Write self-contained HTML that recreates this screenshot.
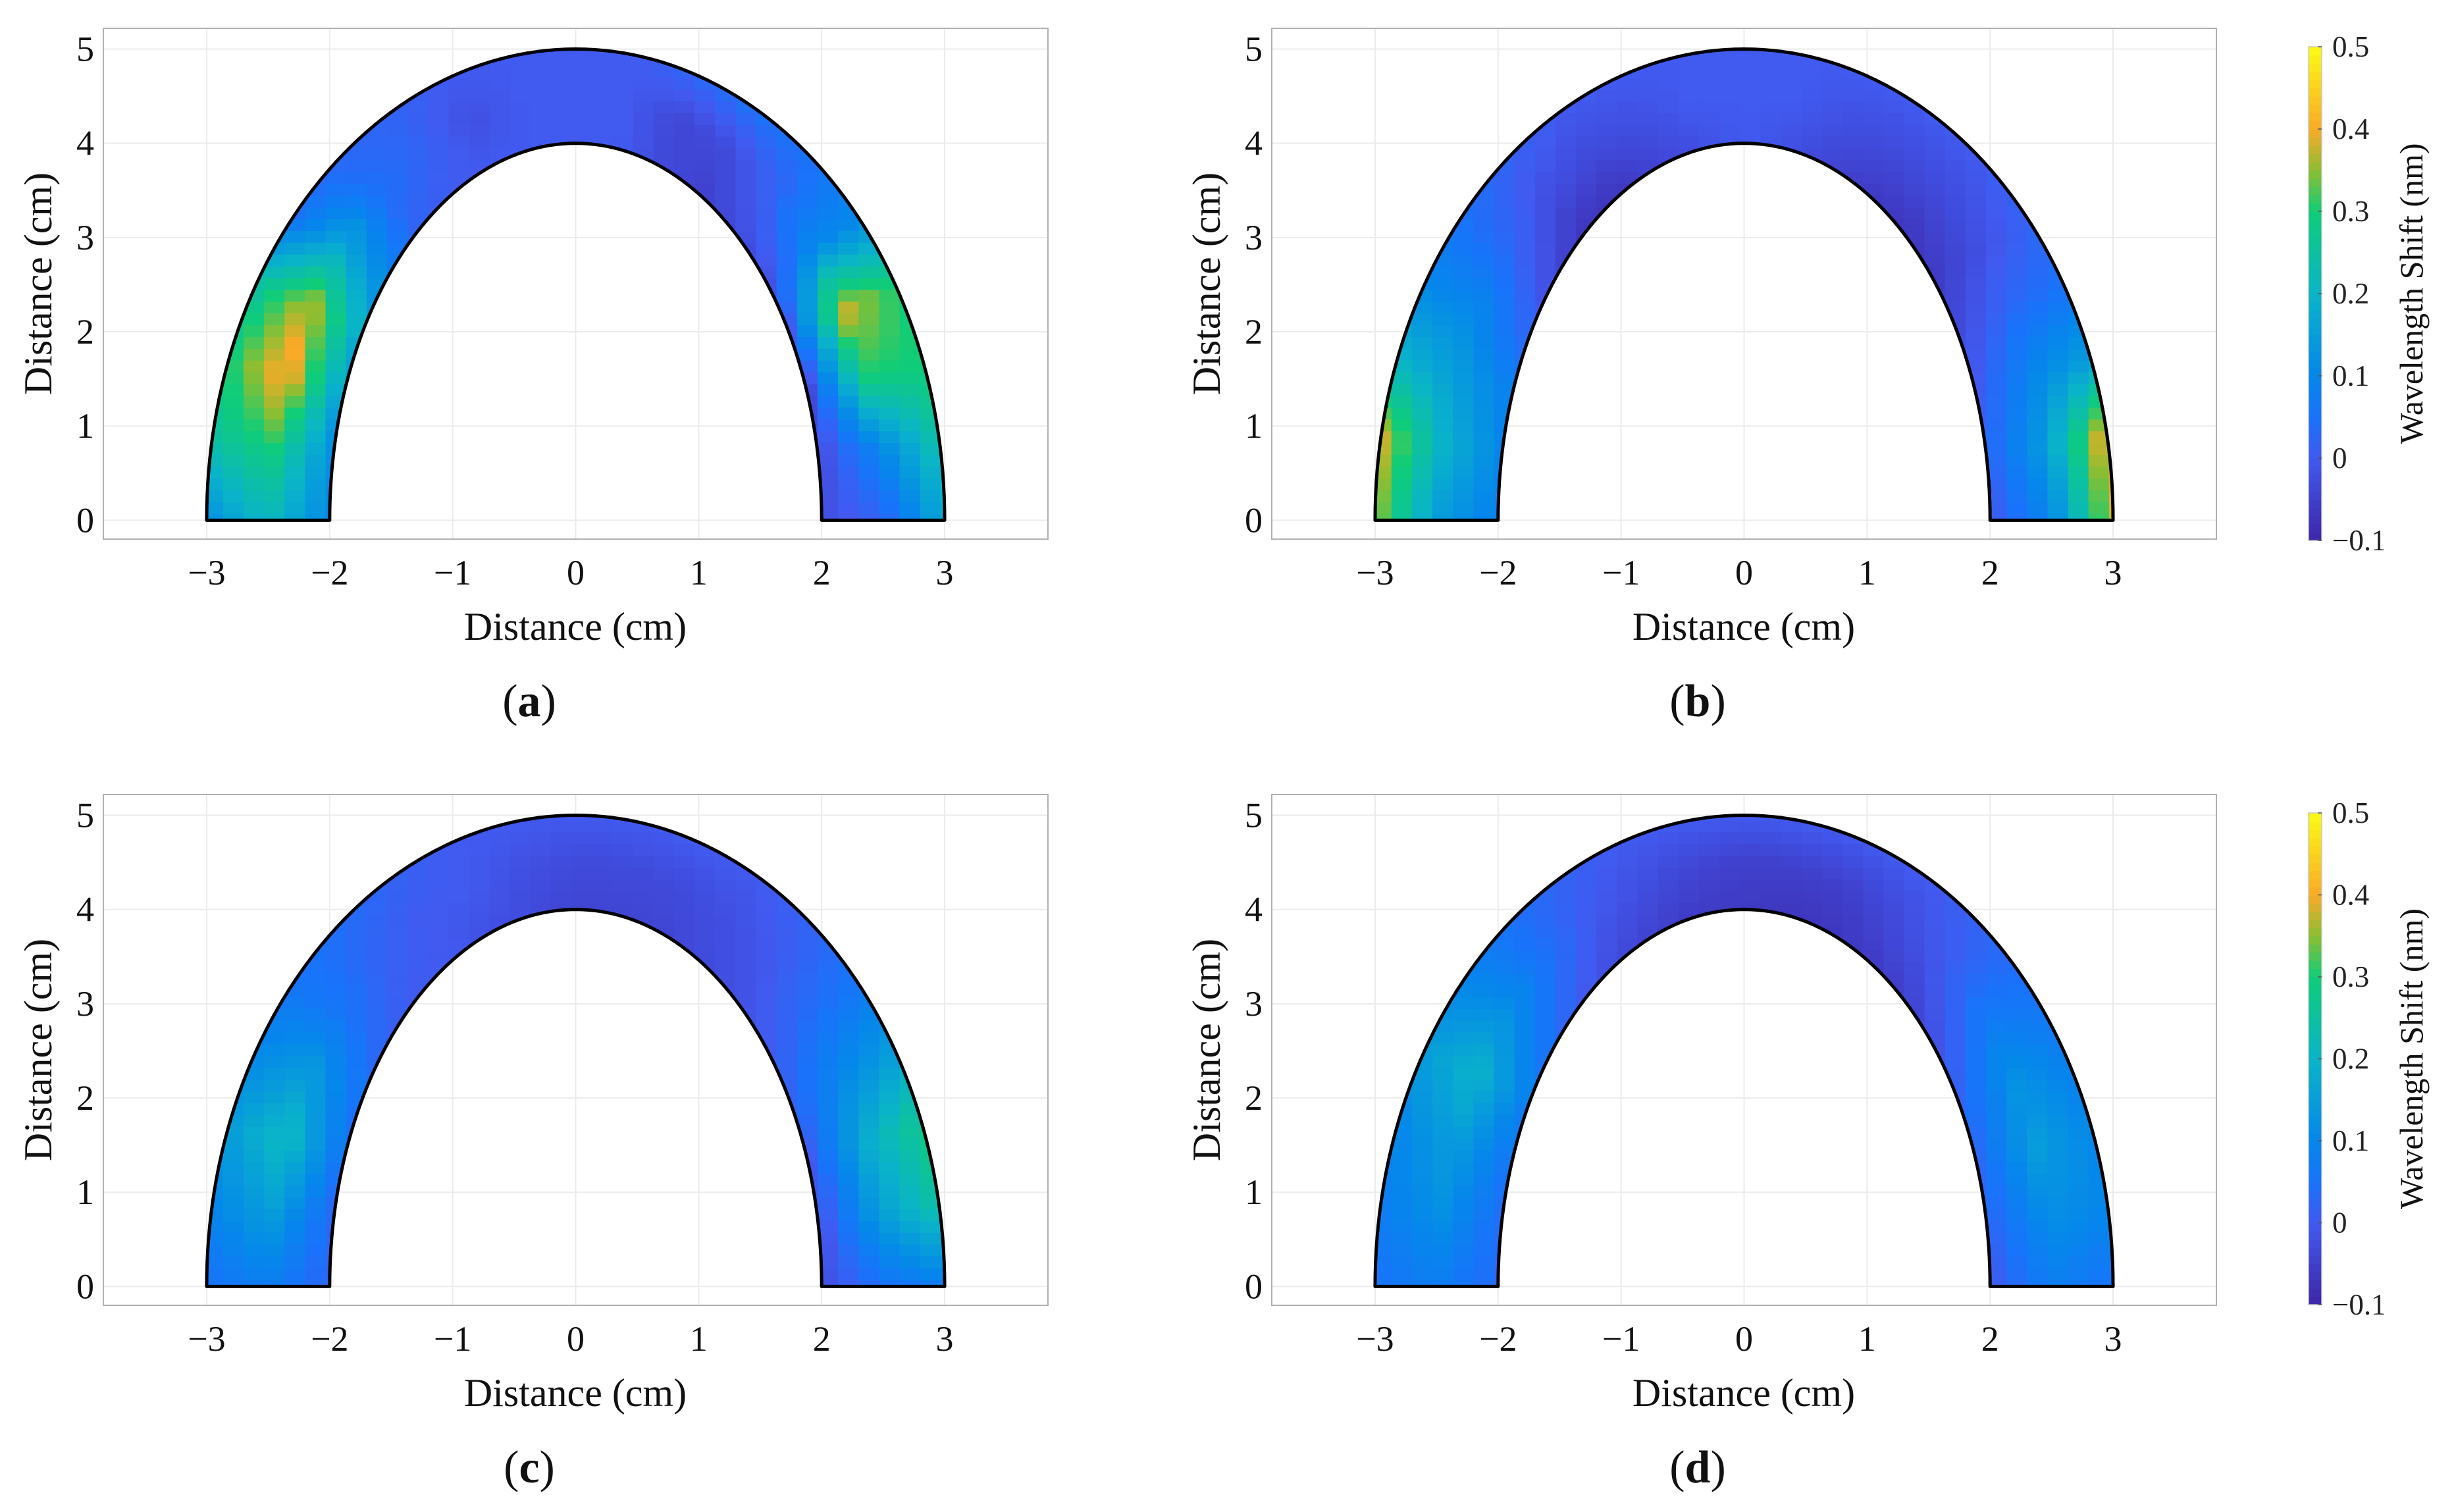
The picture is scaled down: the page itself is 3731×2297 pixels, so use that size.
<!DOCTYPE html>
<html><head><meta charset="utf-8">
<style>
html,body{margin:0;padding:0;background:#fff;}
svg{display:block;font-family:"Liberation Serif",serif;}
</style></head>
<body>
<svg id="fig" width="3731" height="2297" viewBox="0 0 3731 2297" xmlns="http://www.w3.org/2000/svg"></svg>
<script>
// ---- data: wavelength shift (nm) sampled along the arch (angle from right base, 0..180 deg) ----
const angles = [0,10,20,30,40,50,60,70,80,90,100,110,120,130,140,150,160,170,180];
const aOuter = [0.18,0.25,0.30,0.30,0.10,0.05,0.05,0.03,0.00,0.00,0.00,0.00,0.02,0.03,0.05,0.25,0.30,0.25,0.12];
const aMid   = [0.02,0.10,0.30,0.38,0.10,0.02,-0.03,-0.04,0.00,0.00,0.00,-0.02,0.02,0.05,0.18,0.38,0.42,0.30,0.22];
const aInner = [-0.02,-0.03,-0.03,0.00,-0.02,-0.03,-0.05,-0.03,0.00,0.00,0.00,0.00,0.00,0.02,0.10,0.18,0.15,0.12,0.10];
const bOuter = [0.38,0.42,0.15,0.05,0.02,0.00,0.00,0.00,0.00,0.00,0.00,0.00,0.00,0.02,0.05,0.10,0.20,0.38,0.35];
const bMid   = [0.10,0.15,0.10,0.03,-0.02,-0.03,-0.03,-0.02,0.00,0.00,0.00,-0.02,-0.03,-0.02,0.03,0.10,0.15,0.20,0.15];
const bInner = [0.00,0.02,0.00,-0.03,-0.06,-0.07,-0.06,-0.04,-0.02,0.00,-0.02,-0.04,-0.07,-0.07,-0.03,0.02,0.08,0.10,0.08];
const cOuter = [0.08,0.25,0.28,0.15,0.06,0.02,0.00,0.00,0.00,0.00,0.00,0.00,0.02,0.04,0.06,0.10,0.15,0.10,0.05];
const cMid   = [0.05,0.15,0.18,0.10,0.04,0.00,-0.02,-0.03,-0.03,-0.03,-0.02,0.00,0.00,0.02,0.06,0.15,0.22,0.15,0.08];
const cInner = [-0.02,-0.02,0.00,0.02,0.00,-0.02,-0.03,-0.04,-0.04,-0.04,-0.03,-0.02,0.00,0.00,0.02,0.05,0.05,0.03,0.02];
const dOuter = [0.05,0.10,0.10,0.08,0.05,0.02,0.00,0.00,0.00,0.00,0.00,0.00,0.02,0.05,0.10,0.15,0.10,0.08,0.05];
const dMid   = [0.08,0.12,0.15,0.12,0.06,0.00,-0.03,-0.05,-0.05,-0.05,-0.04,-0.02,0.00,0.05,0.12,0.20,0.15,0.12,0.08];
const dInner = [0.00,0.02,0.03,0.02,-0.02,-0.05,-0.06,-0.07,-0.07,-0.06,-0.06,-0.05,-0.03,0.00,0.04,0.08,0.06,0.04,0.03];
const xTicks = [-3,-2,-1,0,1,2,3];
const yTicks = [0,1,2,3,4,5];
const cbTicks = [-0.1,0,0.1,0.2,0.3,0.4,0.5];
const cbLabels = ["\u22120.1","0","0.1","0.2","0.3","0.4","0.5"];
const xTickLabels = ["\u22123","\u22122","\u22121","0","1","2","3"];

const NS="http://www.w3.org/2000/svg";
const svg=document.getElementById('fig');
function mk(tag,attrs,parent){const e=document.createElementNS(NS,tag);for(const k in attrs)e.setAttribute(k,attrs[k]);(parent||svg).appendChild(e);return e;}

const stops=[[0,[62,38,168]],[0.1667,[65,90,240]],[0.25,[25,115,250]],[0.3333,[5,135,235]],[0.5,[10,180,200]],[0.6667,[15,205,120]],[0.75,[140,190,50]],[0.8333,[250,170,40]],[1,[250,250,20]]];
function cmap(v){let t=(v+0.1)/0.6;t=Math.max(0,Math.min(1,t));
 for(let i=1;i<stops.length;i++){if(t<=stops[i][0]){const a=stops[i-1],b=stops[i];const f=(t-a[0])/(b[0]-a[0]);
  const c=a[1].map((x,j)=>Math.round(x+(b[1][j]-x)*f));return `rgb(${c[0]},${c[1]},${c[2]})`;}}
 return 'rgb(250,250,20)';}
function interp(arr,th){const p=th/10;const i=Math.max(0,Math.min(17,Math.floor(p)));const f=Math.max(0,Math.min(1,p-i));return arr[i]*(1-f)+arr[i+1]*f;}

const panels=[
 {id:'a',ox:0,oy:0,outer:aOuter,mid:aMid,inner:aInner},
 {id:'b',ox:1775,oy:0,outer:bOuter,mid:bMid,inner:bInner},
 {id:'c',ox:0,oy:1164,outer:cOuter,mid:cMid,inner:cInner},
 {id:'d',ox:1775,oy:1164,outer:dOuter,mid:dMid,inner:dInner}
];
const XMIN=-3.84,XMAX=3.84,YMIN=-0.2,YMAX=5.22;
const BL=157,BR=1592,BT=43,BB=819;

panels.forEach(p=>{
 const g=mk('g',{});
 
 
 const sx=x=>p.ox+BL+(x-XMIN)/(XMAX-XMIN)*(BR-BL);
 const sy=y=>p.oy+BB-(y-YMIN)/(YMAX-YMIN)*(BB-BT);
 const grid=mk('g',{stroke:'#ebebeb','stroke-width':2},g);
 
 
 xTicks.forEach(t=>mk('line',{x1:sx(t),x2:sx(t),y1:p.oy+BT,y2:p.oy+BB},grid));
 yTicks.forEach(t=>mk('line',{y1:sy(t),y2:sy(t),x1:p.ox+BL,x2:p.ox+BR},grid));
 let d='';const N=120;
 for(let i=0;i<=N;i++){const th=Math.PI*i/N;d+=(i?'L':'M')+sx(3*Math.cos(th)).toFixed(2)+','+sy(5*Math.sin(th)).toFixed(2);}
 for(let i=N;i>=0;i--){const th=Math.PI*i/N;d+='L'+sx(2*Math.cos(th)).toFixed(2)+','+sy(4*Math.sin(th)).toFixed(2);}
 d+='Z';
 const cp=mk('clipPath',{id:'clip-'+p.id},g);
 mk('path',{d:d},cp);
 const hm=mk('g',{'clip-path':'url(#clip-'+p.id+')'},g);
 
 
 const dx=1/6,dy=0.125;
 for(let x=-3.2;x<3.2;x+=dx){
  for(let y=-0.05;y<5.1;y+=dy){
   const cx=x+dx/2,cy=y+dy/2;
   let lo=-0.3,hi=1.3;
   for(let k=0;k<30;k++){const t=(lo+hi)/2;const q=Math.pow(cx/(2+t),2)+Math.pow(Math.max(cy,0)/(4+t),2);if(q>1)lo=t;else hi=t;}
   const t=(lo+hi)/2;
   if(t<-0.25||t>1.25)continue;
   const th=Math.atan2(Math.max(cy,0)/(4+t),cx/(2+t))*180/Math.PI;
   const tt=Math.max(0,Math.min(1,t));
   const vi=interp(p.inner,th),vm=interp(p.mid,th),vo=interp(p.outer,th);
   const v=tt<0.5?vi+(vm-vi)*(tt/0.5):vm+(vo-vm)*((tt-0.5)/0.5);
   const r=mk('rect',{x:sx(x),y:sy(y+dy),width:sx(x+dx)-sx(x)+0.8,height:sy(y)-sy(y+dy)+0.8,fill:cmap(v)},hm);
   
   
  }
 }
 const outline=mk('path',{d:d,fill:'none',stroke:'#000','stroke-width':5,'stroke-linejoin':'round'},g);
 
 
 const box=mk('rect',{x:p.ox+BL,y:p.oy+BT,width:BR-BL,height:BB-BT,fill:'none',stroke:'#b0b0b0','stroke-width':2},g);
 
 
 xTicks.forEach((t,i)=>{const e=mk('text',{x:sx(t),y:p.oy+888,'font-size':54,'text-anchor':'middle',fill:'#111'},g);e.textContent=xTickLabels[i];
  
  });
 yTicks.forEach(t=>{const e=mk('text',{x:p.ox+143,y:sy(t)+18,'font-size':54,'text-anchor':'end',fill:'#111'},g);e.textContent=String(t);
  
  });
 const xl=mk('text',{x:p.ox+874,y:p.oy+972,'font-size':60,'text-anchor':'middle',fill:'#111'},g);xl.textContent='Distance (cm)';
 
 
 const yl=mk('text',{x:0,y:0,'font-size':60,'text-anchor':'middle',fill:'#111',transform:`translate(${p.ox+78},${p.oy+431}) rotate(-90)`},g);yl.textContent='Distance (cm)';
 
 
 const cap=mk('text',{x:p.ox+804,y:p.oy+1088,'font-size':70,'text-anchor':'middle',fill:'#111'},g);
 
 
 cap.appendChild(document.createTextNode('('));
 const bt=mk('tspan',{'font-weight':'bold'},cap);bt.textContent=p.id;
 cap.appendChild(document.createTextNode(')'));
});

[[71,821],[1235,1982]].forEach((cb,ci)=>{
 const g=mk('g',{});
 
 
 const top=cb[0],bot=cb[1],L=3507,W=20;
 const M=60;
 for(let i=0;i<M;i++){const v=-0.1+0.6*(i+0.5)/M;const y0=bot-(i+1)*(bot-top)/M;
  mk('rect',{x:L,y:y0,width:W,height:(bot-top)/M+0.8,fill:cmap(v)},g);}
 mk('rect',{x:L,y:top,width:W,height:bot-top,fill:'none',stroke:'#c8c8c8','stroke-width':1.5},g);
 cbTicks.forEach((t,i)=>{const y=bot-(t+0.1)/0.6*(bot-top);
  mk('line',{x1:L+W-6,x2:L+W,y1:y,y2:y,stroke:'#555','stroke-width':1.5},g);
  const e=mk('text',{x:3543,y:y+15,'font-size':45,fill:'#222'},g);e.textContent=cbLabels[i];
  
  });
 const tl=mk('text',{x:0,y:0,'font-size':50,'text-anchor':'middle',fill:'#111',transform:`translate(3680,${(top+bot)/2}) rotate(-90)`},g);
 tl.textContent='Wavelength Shift (nm)';
 
 
});
</script>
</body></html>
